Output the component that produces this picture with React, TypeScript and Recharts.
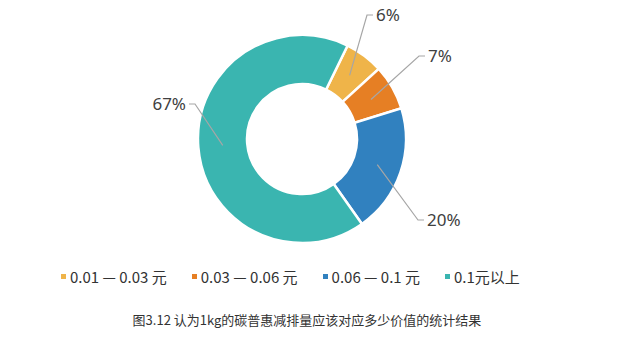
import { PieChart, Pie, Cell, Legend } from "recharts";

const categories = ["0.01 — 0.03 元", "0.03 — 0.06 元", "0.06 — 0.1 元", "0.1元以上"];
const shares = [6, 7, 20, 67];
const colors = ["#EFB449", "#E67F24", "#3181BF", "#3AB5B0"];

// where each leader line bends, relative to the pie centre
const labelElbows = [
  { dx: 65, dy: -124, side: 1 },
  { dx: 117, dy: -83, side: 1 },
  { dx: 116, dy: 81, side: 1 },
  { dx: -107, dy: -35, side: -1 },
];

const CX = 297;
const CY = 134;
const RADIAN = Math.PI / 180;

const chartData = categories.map((name, i) => ({ name, value: shares[i] }));

function renderLabel(props: any) {
  const { cx, cy, midAngle, innerRadius, outerRadius, index, value } = props;
  const r = (innerRadius + outerRadius) / 2;
  const sx = cx + r * Math.cos(-midAngle * RADIAN);
  const sy = cy + r * Math.sin(-midAngle * RADIAN);
  const elbow = labelElbows[index];
  const ex = cx + elbow.dx;
  const ey = cy + elbow.dy;
  const hx = ex + elbow.side * 6;
  return (
    <g>
      <polyline
        points={`${sx},${sy} ${ex},${ey} ${hx},${ey}`}
        fill="none"
        stroke="#A6A6A6"
        strokeWidth={1.2}
      />
      <text
        x={hx + elbow.side * 3}
        y={ey + 1}
        textAnchor={elbow.side > 0 ? "start" : "end"}
        dominantBaseline="middle"
        fill="#404040"
        fontSize={17}
        fontFamily="'Noto Sans', sans-serif"
      >
        {`${value}%`}
      </text>
    </g>
  );
}

function renderLegend() {
  return (
    <div
      style={{
        display: "flex",
        paddingLeft: 61,
        fontFamily: "'Noto Sans CJK SC', 'Noto Sans', sans-serif",
        fontSize: 15,
        color: "#333",
      }}
    >
      {categories.map((name, i) => (
        <div key={name} style={{ display: "flex", alignItems: "center", marginRight: 25 }}>
          <span
            style={{
              display: "inline-block",
              width: 5,
              height: 5,
              background: colors[i],
              marginRight: 4,
            }}
          />
          <span>{name}</span>
        </div>
      ))}
    </div>
  );
}

export default function App() {
  return (
    <div style={{ position: "absolute", left: 0, top: 0, width: 640, height: 356, background: "#fff" }}>
      <PieChart width={640} height={300}>
        <Pie
          data={chartData}
          dataKey="value"
          nameKey="name"
          cx={CX}
          cy={CY}
          innerRadius={55}
          outerRadius={104}
          startAngle={64}
          endAngle={-296}
          stroke="#fff"
          strokeWidth={2.5}
          label={renderLabel}
          labelLine={false}
          isAnimationActive={false}
        >
          {chartData.map((d, i) => (
            <Cell key={d.name} fill={colors[i]} />
          ))}
        </Pie>
        <Legend content={renderLegend} wrapperStyle={{ left: 0, top: 266, width: 640 }} />
      </PieChart>
      <div
        style={{
          position: "absolute",
          left: 0,
          top: 310,
          width: 614,
          textAlign: "center",
          fontFamily: "'Noto Sans CJK SC', sans-serif",
          fontSize: 13,
          color: "#333",
        }}
      >
        图3.12 认为1kg的碳普惠减排量应该对应多少价值的统计结果
      </div>
    </div>
  );
}
